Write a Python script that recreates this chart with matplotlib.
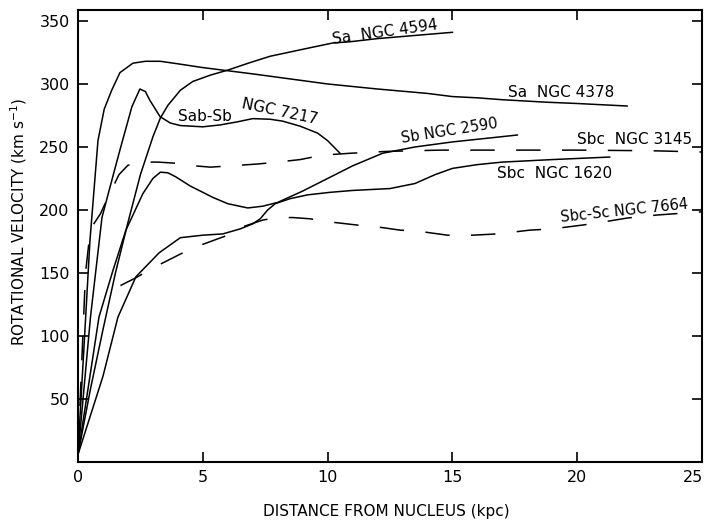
import matplotlib
matplotlib.use("Agg")
import matplotlib.pyplot as plt

# ---------------- data ----------------
# Sa NGC 4378 (solid)
r_4378 = [0.0, 0.25, 0.48, 0.8, 1.05, 1.35, 1.68, 2.2, 2.7, 3.3, 4.0, 5.0, 6.0, 7.0, 8.5,
          10.0, 12.0, 14.0, 15.0, 16.0, 17.0, 18.8, 20.0, 22.0]
v_4378 = [8, 95, 176, 255, 280, 295, 309, 316.5, 318, 318, 316, 313, 310.5, 308, 304,
          300, 296, 292.5, 290, 289, 287.5, 285.5, 284.5, 282.5]

# Sa NGC 4594 (solid)
r_4594 = [0.0, 0.5, 1.0, 1.5, 2.0, 2.5, 3.0, 3.3, 3.6, 4.1, 4.6, 5.3, 6.0, 6.9, 7.7,
          9.0, 10.2, 10.9, 12.0, 13.5, 15.0]
v_4594 = [6, 58, 105, 150, 190, 228, 258, 273, 283, 295, 302, 307, 311, 317, 322,
          327.5, 332.5, 333.5, 336, 338.5, 341]

# Sab-Sb NGC 7217 (solid)
r_7217 = [0.0, 0.5, 0.96, 1.28, 1.68, 2.16, 2.48, 2.7, 2.88, 3.29, 3.7, 4.1, 5.0, 5.7,
          6.4, 7.0, 7.7, 8.2, 8.9, 9.6, 10.0, 10.5]
v_7217 = [6, 115, 194, 218, 247.6, 282, 296, 294, 287, 274, 269, 267, 266, 267.5,
          270, 272.5, 272, 270.5, 266.5, 261, 255, 245]

# Sb NGC 2590 (solid)
r_2590 = [0.0, 0.84, 1.4, 1.92, 2.6, 3.0, 3.3, 3.6, 3.9, 4.5, 5.4, 6.0, 6.8, 7.4, 8.0,
          9.0, 10.1, 11.0, 12.2, 13.5, 15.0, 16.9, 17.6]
v_2590 = [6, 115, 152, 184, 213, 225, 230, 229.5, 226.5, 219, 210, 205, 201.6, 203, 206,
          215, 226, 235, 245, 250, 254, 258, 259.5]

# Sbc NGC 1620 (solid)
r_1620 = [0.0, 1.0, 1.6, 2.32, 3.25, 4.1, 5.0, 5.8, 6.5, 7.0, 7.3, 7.6, 7.9, 8.5, 9.2,
          10.1, 11.0, 12.5, 13.5, 14.3, 15.0, 16.0, 17.0, 19.0, 21.3]
v_1620 = [6, 68, 115, 147, 166, 178, 180, 181, 185, 189, 193, 200, 205, 209, 212,
          214, 215.5, 217, 221, 228, 233, 236, 238, 240, 242]

# Sbc NGC 3145 (dashed)
r_3145 = [0.0, 0.3, 0.5, 0.9, 1.2, 1.64, 2.0, 2.7, 3.2, 4.0, 4.7, 5.3, 6.1, 7.2, 8.0,
          8.9, 9.8, 10.9, 12.4, 14.5, 17.0, 20.0, 23.0, 25.0]
v_3145 = [8, 150, 185, 197, 210, 228, 235.5, 238, 238, 237, 235, 234, 235, 236.5, 238,
          240, 243.5, 245, 246.5, 247.5, 247.5, 247.5, 247, 246]

# Sbc-Sc NGC 7664 (dashed)
r_7664 = [1.7, 2.3, 3.1, 4.2, 4.9, 6.0, 6.5, 7.4, 8.0, 8.6, 9.3, 10.1, 11.2, 12.2, 12.9,
          13.7, 14.8, 15.8, 16.8, 18.1, 19.0, 20.2, 20.9, 22.0, 23.2, 24.6, 25.0]
v_7664 = [140, 146, 155, 166, 172, 180, 186, 192, 194, 194, 193, 190.5, 188, 186, 184,
          183, 180, 180, 181, 184, 185, 188, 190, 193.6, 196, 198, 198.5]

x_ticks = [0, 5, 10, 15, 20, 25]
x_tick_labels = ["0", "5", "10", "15", "20", "25"]
y_ticks = [50, 100, 150, 200, 250, 300, 350]

# ---------------- figure ----------------
fig = plt.figure(figsize=(7.04, 5.26), dpi=100)
ax = fig.add_axes([78 / 704, 1 - 462 / 526, 624 / 704, 452 / 526])

lw = 1.1
dash = (0, (16, 14))
ax.plot(r_4378, v_4378, color="black", lw=lw)
ax.plot(r_4594, v_4594, color="black", lw=lw)
ax.plot(r_7217, v_7217, color="black", lw=lw)
ax.plot(r_2590, v_2590, color="black", lw=lw)
ax.plot(r_1620, v_1620, color="black", lw=lw)
ax.plot(r_3145, v_3145, color="black", lw=lw, linestyle=dash)
ax.plot(r_7664, v_7664, color="black", lw=lw, linestyle=dash)

ax.set_xlim(0, 25)
ax.set_ylim(0, 358.7)
ax.set_xticks(x_ticks)
# last label (at the right spine) is drawn right-aligned so it stays inside the figure
ax.set_xticklabels(x_tick_labels[:-1] + [""])
ax.annotate(x_tick_labels[-1], xy=(x_ticks[-1], 0), xycoords=("data", "axes fraction"),
            xytext=(1, -6), textcoords="offset points", ha="right", va="top",
            fontsize=11.5, annotation_clip=False)
ax.set_yticks(y_ticks)
ax.tick_params(direction="in", length=7, width=1.2, top=True, right=True,
               labelsize=11.5, pad=6)
for s in ax.spines.values():
    s.set_linewidth(1.5)

ax.set_xlabel("DISTANCE FROM NUCLEUS (kpc)", fontsize=11)
ax.set_ylabel(r"ROTATIONAL VELOCITY (km s$^{-1}$)", fontsize=11)
ax.xaxis.set_label_coords(0.494, -0.092)
ax.yaxis.set_label_coords(-0.078, 0.531)

fs = 11
ax.text(12.3, 341, "Sa  NGC 4594", fontsize=fs, rotation=8, ha="center", va="center")
ax.text(19.35, 293, "Sa  NGC 4378", fontsize=fs, ha="center", va="center")
ax.text(5.1, 274.5, "Sab-Sb", fontsize=fs, ha="center", va="center")
ax.text(8.1, 278, "NGC 7217", fontsize=fs, rotation=-12, ha="center", va="center")
ax.text(14.9, 262.5, "Sb NGC 2590", fontsize=10.5, rotation=9, ha="center", va="center")
ax.text(22.3, 256, "Sbc  NGC 3145", fontsize=fs, ha="center", va="center")
ax.text(19.1, 229, "Sbc  NGC 1620", fontsize=fs, ha="center", va="center")
ax.text(21.9, 199, "Sbc-Sc NGC 7664", fontsize=10.5, rotation=6, ha="center", va="center")

fig.savefig("out.png", dpi=100)
